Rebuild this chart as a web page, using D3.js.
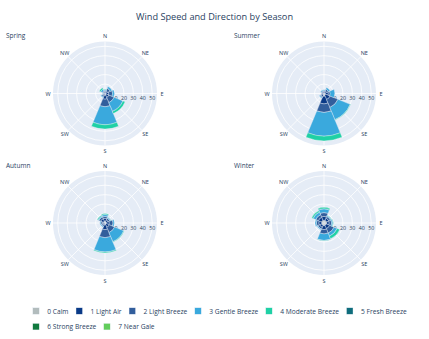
<!DOCTYPE html>
<html><head><meta charset="utf-8">
<script src="https://cdn.jsdelivr.net/npm/d3@7/dist/d3.min.js"></script>
<style>body{margin:0;background:#fff}svg{display:block;font-family:"Open Sans",verdana,arial,sans-serif}</style>
</head><body>
<svg id="chart" width="429" height="339"></svg>
<script>
// ---- data ----
const directions = ["N","NE","E","SE","S","SW","W","NW"];
const categories = ["0 Calm","1 Light Air","2 Light Breeze","3 Gentle Breeze","4 Moderate Breeze","5 Fresh Breeze","6 Strong Breeze","7 Near Gale"];
const colors = ["#b2bcbd","#0a3a87","#325e9c","#3aa9dd","#1fd1a5","#0f6d7c","#107a3e","#62cd5c"];
const seasons = ["Spring","Summer","Autumn","Winter"];
const radialTicks = [10,20,30,40,50];
const radialMax = 55;

// rows = categories, columns = directions (N, NE, E, SE, S, SW, W, NW)
const springValues = [
  [1, 1, 1, 1.5, 2, 1, 0.8, 1],
  [1, 2, 3, 3, 4, 1.5, 0.7, 1],
  [1, 3, 4, 6, 8, 1.5, 0.5, 1],
  [1, 2, 2, 10, 19, 1, 0.5, 2],
  [0.5, 0, 0, 2.5, 4.5, 0, 0, 1.5],
  [0, 0, 0, 0, 0, 0, 0, 0],
  [0, 0, 0, 0, 0, 0, 0, 0],
  [0, 0, 0, 0, 0, 0, 0, 0]
];
const summerValues = [
  [1, 1, 1.5, 2, 3, 1.5, 1, 1],
  [1, 2, 3, 5, 8, 2, 1, 1],
  [1, 2, 2, 9, 9, 1, 0.5, 1],
  [1, 2, 5, 14, 25, 1, 0, 1],
  [0, 0, 0, 0.5, 5, 0, 0, 0],
  [0, 0, 0, 0, 0, 0, 0, 0],
  [0, 0, 0, 0, 0, 0, 0, 0],
  [0, 0, 0, 0, 0, 0, 0, 0]
];
const autumnValues = [
  [2, 1.5, 1.5, 1.5, 2, 1, 1.5, 2],
  [3, 2, 3, 3.5, 5, 1.5, 1.5, 3],
  [2, 2, 4, 6, 8.5, 1.5, 1.5, 2],
  [2, 1, 1.5, 10.5, 15, 1, 1, 1],
  [1, 0.5, 0, 0.5, 1, 0, 0, 1],
  [0, 0, 0, 0, 0, 0, 0, 0],
  [0, 0, 0, 0, 0, 0, 0, 0],
  [0, 0, 0, 0, 0, 0, 0, 0]
];
const winterValues = [
  [3, 3, 3, 2.5, 3, 2.5, 2.5, 3],
  [4, 2.5, 2.5, 4, 4, 2.5, 3, 3.5],
  [4, 2, 2.5, 5, 4.5, 2, 2.5, 3],
  [4, 1, 1.5, 3.5, 7, 1, 1.5, 3],
  [1.5, 0.5, 0.5, 3, 0.5, 0, 0, 1.5],
  [0, 0, 0, 0, 0, 0, 0, 0],
  [0, 0, 0, 0, 0, 0, 0, 0],
  [0, 0, 0, 0, 0, 0, 0, 0]
];
const seasonValues = [springValues, summerValues, autumnValues, winterValues];

// ---- layout ----
const svg = d3.select("#chart");
const textColor = "#2a3f5f";
const R = 52;
const colCenters = [105, 324];
const rowCenters = [93.5, 223];
const titleX = [6, 234];
const titleY = [38, 167.5];
const legendFont = 6.65;

svg.append("text").attr("x", 214.5).attr("y", 20).attr("text-anchor","middle")
  .attr("font-size", 9.2).attr("fill", textColor).text("Wind Speed and Direction by Season");

const angle = d3.scaleBand().domain(directions).range([-Math.PI/8, 2*Math.PI - Math.PI/8]).padding(0);
const radius = d3.scaleLinear().domain([0, radialMax]).range([0, R]);
const arc = d3.arc();

seasons.forEach((season, si) => {
  const cx = colCenters[si % 2], cy = rowCenters[Math.floor(si / 2)];
  svg.append("text").attr("x", titleX[si % 2]).attr("y", titleY[Math.floor(si/2)])
    .attr("font-size", 6.5).attr("fill", textColor).text(season);

  const g = svg.append("g").attr("transform", `translate(${cx},${cy})`);
  g.append("circle").attr("r", R).attr("fill", "#E5ECF6");
  g.selectAll(".rg").data(radialTicks).join("circle")
    .attr("r", d => radius(d)).attr("fill","none").attr("stroke","#fff").attr("stroke-width",0.8);
  g.selectAll(".ag").data(directions).join("line")
    .attr("x1",0).attr("y1",0)
    .attr("x2", d => R*Math.sin(angle(d)+angle.bandwidth()/2))
    .attr("y2", d => -R*Math.cos(angle(d)+angle.bandwidth()/2))
    .attr("stroke","#fff").attr("stroke-width",0.8);
  g.selectAll(".rt").data(radialTicks).join("text")
    .attr("x", d => radius(d)).attr("y", 6.6).attr("text-anchor","middle")
    .attr("font-size", 5.3).attr("fill", textColor).text(d => d);

  const rows = directions.map((d, j) => {
    const o = {dir: d};
    categories.forEach((c, k) => o[c] = seasonValues[si][k][j]);
    return o;
  });
  const stacked = d3.stack().keys(categories)(rows);
  stacked.forEach((layer, k) => {
    g.append("g").selectAll("path").data(layer).join("path")
      .attr("d", d => arc({innerRadius: radius(d[0]), outerRadius: radius(d[1]),
        startAngle: angle(d.data.dir), endAngle: angle(d.data.dir) + angle.bandwidth()}))
      .attr("fill", colors[k]).attr("stroke", "#E5ECF6").attr("stroke-width", 0.4)
      .attr("display", d => d[1] - d[0] > 0 ? null : "none");
  });

  g.selectAll(".al").data(directions).join("text")
    .attr("x", d => (R+5)*Math.sin(angle(d)+angle.bandwidth()/2))
    .attr("y", d => -(R+5.5)*Math.cos(angle(d)+angle.bandwidth()/2))
    .attr("text-anchor","middle").attr("dominant-baseline","central")
    .attr("font-size", 5.5).attr("fill", textColor).text(d => d);
});

// ---- legend ----
const legend = svg.append("g");
let lx = 36, ly = 311;
categories.forEach((c, k) => {
  const item = legend.append("g");
  item.append("rect").attr("x", lx - 3.2).attr("y", ly - 3.2).attr("width", 6.4).attr("height", 6.4)
    .attr("fill", colors[k]).attr("stroke","#E5ECF6").attr("stroke-width",0.3);
  const t = item.append("text").attr("x", lx + 11.3).attr("y", ly).attr("dominant-baseline","central")
    .attr("font-size", legendFont).attr("fill", textColor).text(c);
  const w = t.node().getComputedTextLength();
  let next = lx + 11.3 + w + 10.7;
  if (k < categories.length - 1) {
    const nw = legend.append("text").attr("font-size", legendFont).text(categories[k+1]);
    const nextW = nw.node().getComputedTextLength(); nw.remove();
    if (next + 11.3 + nextW > 418) { next = 36; ly += 15.7; }
  }
  lx = next;
});
</script>
</body></html>
